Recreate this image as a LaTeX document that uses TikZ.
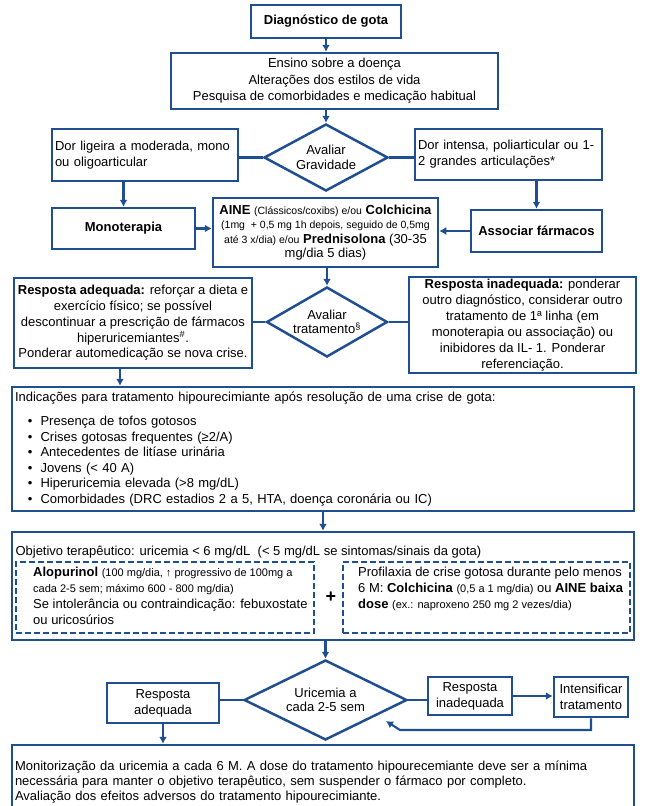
\documentclass[tikz,border=0pt]{standalone}
\usepackage{fontspec}
\setmainfont{Liberation Sans}
\usetikzlibrary{arrows,arrows.meta,calc,positioning,shapes.geometric}
\definecolor{gblue}{RGB}{31,78,145}
\tikzstyle{bx}=[rectangle,draw=gblue,line width=2.5pt,fill=white,inner sep=2pt,align=center,font=\fontsize{13}{16}\selectfont]
\tikzstyle{bbx}=[bx,font=\fontsize{13}{16}\selectfont\bfseries]
\tikzstyle{dm}=[diamond,aspect=1.7,draw=gblue,line width=2.5pt,fill=white,inner sep=0pt,align=center,font=\fontsize{13}{14.5}\selectfont]
\tikzstyle{db}=[rectangle,draw=gblue,line width=2.2pt,dash pattern=on 6pt off 3pt]
\tikzstyle{tx}=[inner sep=0pt,align=left,font=\fontsize{13}{16}\selectfont]
\tikzstyle{ar}=[draw=gblue,line width=2.1pt,-{Latex[length=7pt,width=8pt]}]
\tikzstyle{ln}=[draw=gblue,line width=2.1pt]
\newcommand{\smtxt}[1]{{\fontsize{10.5}{12}\selectfont #1}}
\newcommand{\smdtxt}[1]{{\fontsize{11}{12}\selectfont #1}}

\begin{document}
\begin{tikzpicture}[x=1pt,y=-1pt]
    \useasboundingbox (0,0) rectangle (648,806);
    \node (diag) [bbx,minimum width=150pt,minimum height=33pt] at (326,21.5) {Diagnóstico de gota};
    \node (ens) [bx,minimum width=327pt,minimum height=56pt,font=\fontsize{13}{16.5}\selectfont] at (334.5,81) {Ensino sobre a doença\\Alterações dos estilos de vida\\Pesquisa de comorbidades e medicação habitual};
    \node (grav) [dm,minimum width=124pt,minimum height=67pt] at (326,157.5) {Avaliar\\Gravidade};
    \node (dl1) [bx,minimum height=52pt,text width=180pt,align=left,inner xsep=3pt] at (145,155) {Dor ligeira a moderada, mono\\ou oligoarticular};
    \node (dr1) [bx,minimum height=51pt,text width=181pt,align=left,inner xsep=3pt] at (508.5,154.5) {Dor intensa, poliarticular ou 1-\\2 grandes articulações*};

    \node (mono) [bbx,minimum width=143pt,minimum height=41pt] at (123.5,228.5) {Monoterapia};
    \node (aine) [bx,minimum width=225pt,minimum height=69pt,font=\fontsize{13}{14.3}\selectfont] at (325.5,232.5) {\textbf{AINE} \smtxt{(Clássicos/coxibs) e/ou} \textbf{Colchicina}\\\smtxt{(1mg\ \ + 0,5 mg 1h depois, seguido de 0,5mg}\\\smtxt{até 3 x/dia) e/ou} \textbf{Prednisolona} (30-35\\mg/dia 5 dias)};
    \node (assoc) [bbx,minimum width=131pt,minimum height=42pt] at (536.5,231) {Associar fármacos};

    \node (trat) [dm,minimum width=121pt,minimum height=70pt] at (327,322) {Avaliar\\tratamento\textsuperscript{§}};
    \node (ra) [bx,minimum width=238pt,minimum height=90pt,font=\fontsize{13}{15.8}\selectfont] at (133,323) {\textbf{Resposta adequada:} reforçar a dieta e\\exercício físico; se possível\\descontinuar a prescrição de fármacos\\hiperuricemiantes\textsuperscript{\#}.\\Ponderar automedicação se nova crise.};
    \node (ri) [bx,minimum width=227pt,minimum height=96pt] at (522.5,325) {\textbf{Resposta inadequada:} ponderar\\outro diagnóstico, considerar outro\\tratamento de 1ª linha (em\\monoterapia ou associação) ou\\inibidores da IL- 1. Ponderar\\referenciação.};

    \node (ind) [bx,minimum width=622pt,minimum height=124pt,text width=616pt,align=left,inner xsep=3pt,font=\fontsize{13}{15.6}\selectfont] at (323,449) {Indicações para tratamento hipourecimiante após resolução de uma crise de gota:\\[8.4pt]
      \hspace*{13pt}•\hspace{8pt}Presença de tofos gotosos\\
      \hspace*{13pt}•\hspace{8pt}Crises gotosas frequentes (≥2/A)\\
      \hspace*{13pt}•\hspace{8pt}Antecedentes de litíase urinária\\
      \hspace*{13pt}•\hspace{8pt}Jovens (< 40 A)\\
      \hspace*{13pt}•\hspace{8pt}Hiperuricemia elevada (>8 mg/dL)\\
      \hspace*{13pt}•\hspace{8pt}Comorbidades (DRC estadios 2 a 5, HTA, doença coronária ou IC)};

    \node (obj) [bx,minimum width=622pt,minimum height=108pt] at (323,586) {};
    \node (objtxt) [anchor=west,font=\fontsize{13}{16}\selectfont] at (12,552) {Objetivo terapêutico: uricemia < 6 mg/dL\ \ (< 5 mg/dL se sintomas/sinais da gota)};
    \node (alo) [db,minimum width=298pt,minimum height=71pt] at (165,597.5) {};
    \node (pro) [db,minimum width=287pt,minimum height=71pt] at (486.5,597.5) {};
    \node (plus) [font=\fontsize{18}{18}\selectfont\bfseries] at (331,597) {+};
    \node (alotxt) [tx,anchor=north west] at (33,567) {\textbf{Alopurinol} \smdtxt{(100 mg/dia, ↑ progressivo de 100mg a}\\\smdtxt{cada 2-5 sem; máximo 600 - 800 mg/dia)}\\Se intolerância ou contraindicação: febuxostate\\ou uricosúrios};
    \node (protxt) [tx,anchor=north west] at (358,567) {Profilaxia de crise gotosa durante pelo menos\\6 M: \textbf{Colchicina} \smdtxt{(0,5 a 1 mg/dia)} ou \textbf{AINE baixa}\\\textbf{dose} \smdtxt{(ex.: naproxeno 250 mg 2 vezes/dia)}};

    \node (uric) [dm,minimum width=163pt,minimum height=80pt] at (325.5,700) {Uricemia a\\cada 2-5 sem};
    \node (rad) [bx,minimum width=112pt,minimum height=40pt] at (163,703) {Resposta\\adequada};
    \node (rin) [bx,minimum width=84pt,minimum height=38pt] at (470,696) {Resposta\\inadequada};
    \node (int) [bx,minimum width=74pt,minimum height=40pt] at (591,697) {Intensificar\\tratamento};
    \node (mon) [bx,minimum width=622pt,minimum height=74pt,text width=616pt,align=left,inner xsep=3pt,font=\fontsize{13}{15}\selectfont] at (323,782) {Monitorização da uricemia a cada 6 M. A dose do tratamento hipourecemiante deve ser a mínima\\necessária para manter o objetivo terapêutico, sem suspender o fármaco por completo.\\Avaliação dos efeitos adversos do tratamento hipourecimiante.};
    \coordinate (fb) at (400,730);
    \coordinate (fbend) at (386,721);

    \draw[ar] (diag.south) -- (diag.south |- ens.north);
    \draw[ar] (ens.south -| grav.north) -- (grav.north);
    \draw[ln] (grav.west) -- (grav.west -| dl1.east);
    \draw[ln] (grav.east) -- (grav.east -| dr1.west);
    \draw[ar] (dl1.south -| mono.north) -- (mono.north);
    \draw[ar] (dr1.south -| assoc.north) -- (assoc.north);
    \draw[ar] (mono.east) -- (mono.east -| aine.west);
    \draw[ar] (assoc.west) -- (assoc.west -| aine.east);
    \draw[ar] (aine.south -| trat.north) -- (trat.north);
    \draw[ln] (trat.west) -- (trat.west -| ra.east);
    \draw[ln] (trat.east) -- (trat.east -| ri.west);
    \draw[ar] ([xshift=-13pt]ra.south) -- ([xshift=-13pt]ra.south |- ind.north);
    \draw[ar] (ind.south) -- (obj.north);
    \draw[ar] (obj.south -| uric.north) -- (uric.north);
    \draw[ln] (uric.west) -- (uric.west -| rad.east);
    \draw[ln] (uric.east) -- (uric.east -| rin.west);
    \draw[ar] (rin.east) -- (rin.east -| int.west);
    \draw[ar] (rad.south) -- (rad.south |- mon.north);
    \draw[ar] (int.south) |- (fb) -- (fbend);
\end{tikzpicture}
\end{document}
